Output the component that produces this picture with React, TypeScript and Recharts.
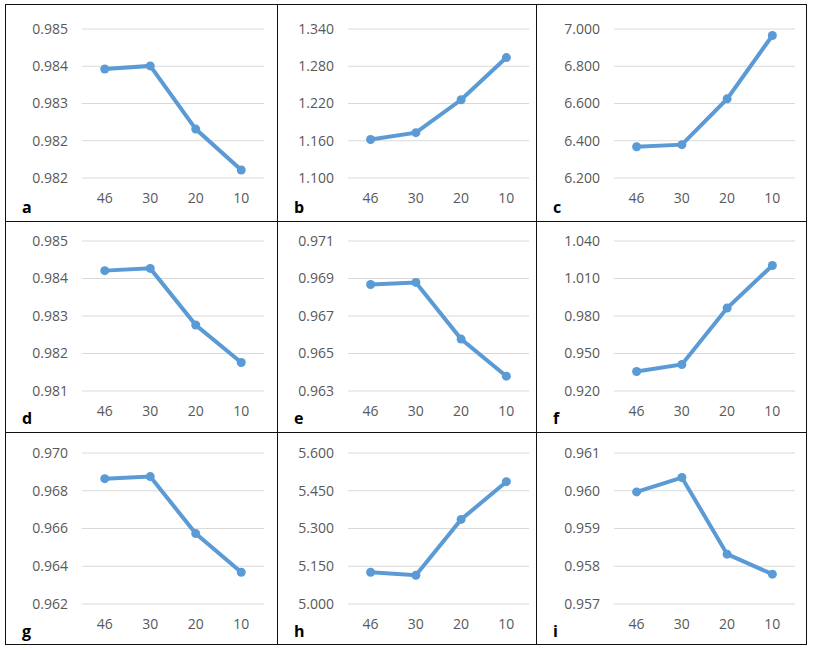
import { LineChart, Line, XAxis, YAxis, CartesianGrid } from "recharts";

const categories = ["46", "30", "20", "10"];

const aValues = [0.9841, 0.98417, 0.98275, 0.98183];
const aTicks = [0.98165, 0.9824875, 0.983325, 0.9841625, 0.985];
const bValues = [1.162, 1.173, 1.226, 1.294];
const bTicks = [1.1, 1.16, 1.22, 1.28, 1.34];
const cValues = [6.368, 6.379, 6.625, 6.965];
const cTicks = [6.2, 6.4, 6.6, 6.8, 7.0];
const dValues = [0.98421, 0.98427, 0.98276, 0.98176];
const dTicks = [0.981, 0.982, 0.983, 0.984, 0.985];
const eValues = [0.96868, 0.96879, 0.96577, 0.96379];
const eTicks = [0.963, 0.965, 0.967, 0.969, 0.971];
const fValues = [0.9356, 0.9412, 0.9864, 1.0204];
const fTicks = [0.92, 0.95, 0.98, 1.01, 1.04];
const gValues = [0.96864, 0.96875, 0.96573, 0.96368];
const gTicks = [0.962, 0.964, 0.966, 0.968, 0.97];
const hValues = [5.126, 5.114, 5.336, 5.486];
const hTicks = [5.0, 5.15, 5.3, 5.45, 5.6];
const iValues = [0.95997, 0.96035, 0.95832, 0.95779];
const iTicks = [0.957, 0.958, 0.959, 0.96, 0.961];

const panels = [
  { letter: "a", values: aValues, ticks: aTicks },
  { letter: "b", values: bValues, ticks: bTicks },
  { letter: "c", values: cValues, ticks: cTicks },
  { letter: "d", values: dValues, ticks: dTicks },
  { letter: "e", values: eValues, ticks: eTicks },
  { letter: "f", values: fValues, ticks: fTicks },
  { letter: "g", values: gValues, ticks: gTicks },
  { letter: "h", values: hValues, ticks: hTicks },
  { letter: "i", values: iValues, ticks: iTicks },
];

// page layout (pixels)
const colEdges = [5, 277, 536, 807];
const rowEdges = [4, 221, 432, 645];
const plotCols = [
  [82, 264],
  [348, 529],
  [614, 795],
];
const plotRows = [
  [29, 178],
  [241, 391],
  [453, 604],
];

const COLOR = "#5B9BD5";
const FONT = "'Open Sans', sans-serif";
const YW = 70;
const MT = 12;
const MR = 10;
const XH = 34;

function Panel({ idx }: { idx: number }) {
  const p = panels[idx];
  const col = idx % 3;
  const row = Math.floor(idx / 3);
  const [pl, pr] = plotCols[col];
  const [pt, pb] = plotRows[row];
  const data = categories.map((c, k) => ({ cat: c, v: p.values[k] }));
  const w = pr - pl + YW + MR;
  const h = pb - pt + MT + XH;
  return (
    <>
      <div style={{ position: "absolute", left: pl - YW, top: pt - MT }}>
        <LineChart width={w} height={h} data={data} margin={{ top: MT, right: MR, left: 0, bottom: 0 }}>
          <CartesianGrid vertical={false} stroke="#D9D9D9" strokeWidth={1} />
          <XAxis
            dataKey="cat"
            scale="band"
            height={XH}
            axisLine={false}
            tickLine={false}
            tickMargin={9}
            tick={{ fill: "#595959", fontSize: 14, fontFamily: FONT }}
          />
          <YAxis
            type="number"
            width={YW}
            domain={[p.ticks[0], p.ticks[p.ticks.length - 1]]}
            ticks={p.ticks}
            interval={0}
            axisLine={false}
            tickLine={false}
            tickMargin={8}
            tickFormatter={(v: number) => v.toFixed(3)}
            tick={{ fill: "#595959", fontSize: 14, fontFamily: FONT }}
          />
          <Line
            dataKey="v"
            stroke={COLOR}
            strokeWidth={4}
            dot={{ r: 4.5, fill: COLOR, stroke: COLOR, strokeWidth: 0 }}
            isAnimationActive={false}
          />
        </LineChart>
      </div>
      <div
        style={{
          position: "absolute",
          left: colEdges[col] + 17,
          top: rowEdges[row + 1] - 22,
          fontFamily: FONT,
          fontWeight: 700,
          fontSize: 16,
          lineHeight: "16px",
          color: "#000",
        }}
      >
        {p.letter}
      </div>
    </>
  );
}

export default function App() {
  const line = "#111";
  return (
    <div style={{ position: "absolute", left: 0, top: 0, width: 814, height: 650, background: "#fff" }}>
      <div
        style={{
          position: "absolute",
          left: colEdges[0],
          top: rowEdges[0],
          width: colEdges[3] - colEdges[0],
          height: rowEdges[3] - rowEdges[0],
          border: `1px solid ${line}`,
          boxSizing: "border-box",
        }}
      />
      {[colEdges[1], colEdges[2]].map((x) => (
        <div key={"v" + x} style={{ position: "absolute", left: x, top: rowEdges[0], width: 1, height: rowEdges[3] - rowEdges[0], background: line }} />
      ))}
      {[rowEdges[1], rowEdges[2]].map((y) => (
        <div key={"h" + y} style={{ position: "absolute", left: colEdges[0], top: y, width: colEdges[3] - colEdges[0], height: 1, background: line }} />
      ))}
      {panels.map((_, k) => (
        <Panel key={k} idx={k} />
      ))}
    </div>
  );
}
